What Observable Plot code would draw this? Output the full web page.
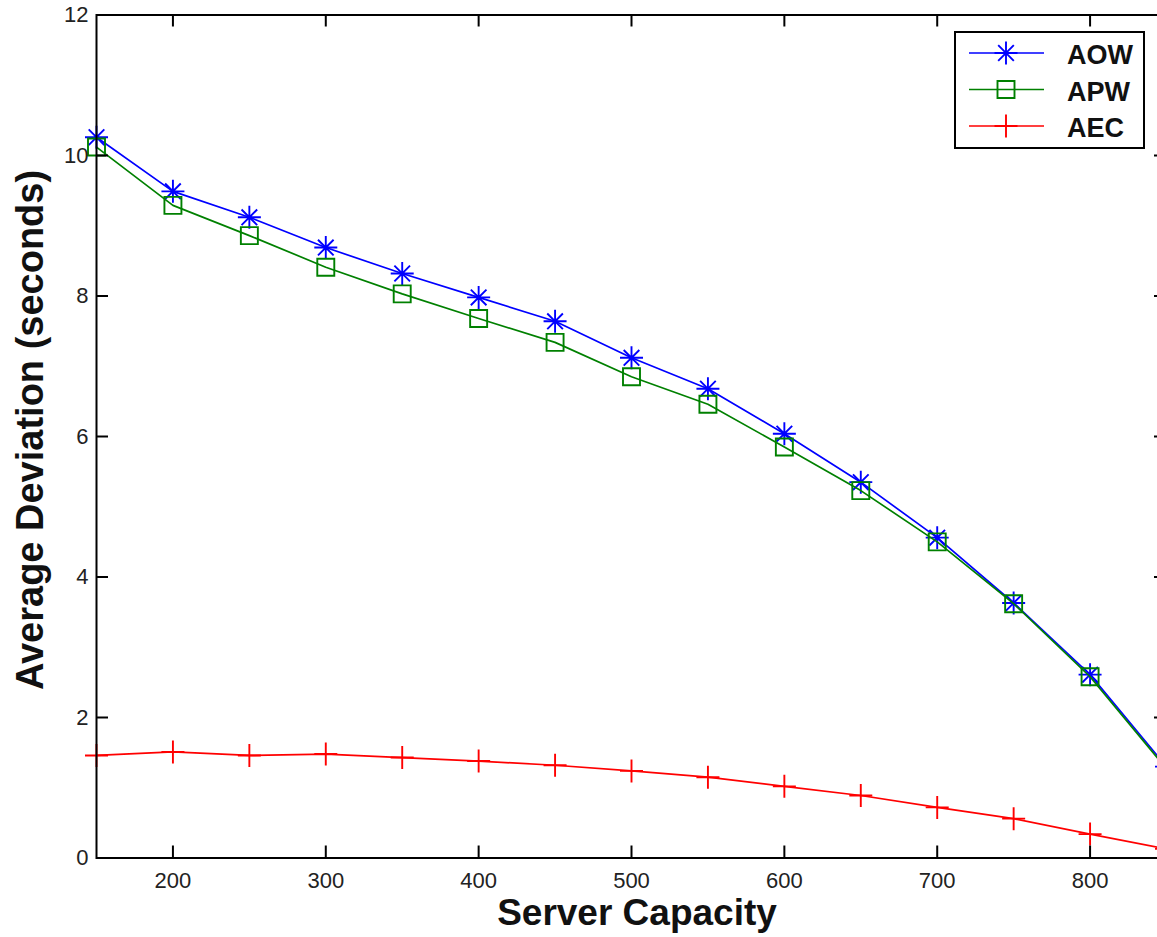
<!DOCTYPE html>
<html><head><meta charset="utf-8">
<script src="https://cdn.jsdelivr.net/npm/d3@7"></script>
<script src="https://cdn.jsdelivr.net/npm/@observablehq/plot@0.6"></script>
<style>
body{margin:0;background:#fff;}
#chart{position:relative;width:1157px;height:937px;overflow:hidden;}
#chart svg{overflow:hidden;}
</style>
</head><body><div id="chart"></div>
<script>
const capacity = [150,200,250,300,350,400,450,500,550,600,650,700,750,800,850];
const aow = [10.26,9.49,9.12,8.69,8.32,7.98,7.64,7.12,6.68,6.04,5.35,4.56,3.63,2.61,1.30];
const apw = [10.12,9.29,8.86,8.41,8.03,7.68,7.34,6.85,6.46,5.85,5.23,4.50,3.62,2.58,1.27];
const aec = [1.46,1.51,1.46,1.48,1.43,1.38,1.32,1.24,1.15,1.02,0.89,0.72,0.56,0.34,0.13];
const seriesNames = ["AOW","APW","AEC"];
const seriesColors = ["#0000ff","#008000","#ff0000"];
const xTicks = [200,300,400,500,600,700,800];
const yTicks = [0,2,4,6,8,10,12];
const xLabel = "Server Capacity";
const yLabel = "Average Deviation (seconds)";

// custom MATLAB-like marker shapes
const asterisk = {draw(c, size){const r=Math.sqrt(size/Math.PI), d=r*0.68;
  c.moveTo(-r,0);c.lineTo(r,0);c.moveTo(0,-r);c.lineTo(0,r);
  c.moveTo(-d,-d);c.lineTo(d,d);c.moveTo(-d,d);c.lineTo(d,-d);}};
const square = {draw(c, size){const r=Math.sqrt(size/Math.PI);
  c.moveTo(-r,-r);c.lineTo(r,-r);c.lineTo(r,r);c.lineTo(-r,r);c.closePath();}};
const plus = {draw(c, size){const r=Math.sqrt(size/Math.PI);
  c.moveTo(-r,0);c.lineTo(r,0);c.moveTo(0,-r);c.lineTo(0,r);}};
const seriesSymbols = [asterisk, square, plus];
const seriesR = [11.5, 8.5, 11.5];
const seriesValues = [aow, apw, aec];

const rows = seriesNames.map((s,i)=>capacity.map((x,j)=>({series:s, x, y:seriesValues[i][j]})));

const W = 1157, H = 937, mL = 96, mR = -9, mT = 14.5, mB = 79.5;
const plotW = W - mL - mR, plotH = H - mT - mB;
const font = "'Liberation Sans', Arial, Helvetica, sans-serif";

const marks = [];
rows.forEach((data,i)=>{
  marks.push(Plot.line(data, {x:"x", y:"y", stroke: seriesColors[i], strokeWidth: 1.7}));
  marks.push(Plot.dot(data, {x:"x", y:"y", symbol: seriesSymbols[i], r: seriesR[i], fill:"none", stroke: seriesColors[i], strokeWidth: 1.9}));
});

const chart = Plot.plot({
  width: W, height: H,
  marginLeft: mL, marginRight: mR, marginTop: mT, marginBottom: mB,
  style: {fontFamily: font, background: "#fff", overflow: "hidden"},
  x: {domain: [150, 850]},
  y: {domain: [0, 12]},
  marks: [
    ...marks,
    Plot.tickX(xTicks, {x: d=>d, insetTop: plotH-12, stroke:"#000", strokeWidth:2}),
    Plot.tickX(xTicks, {x: d=>d, insetBottom: plotH-12, stroke:"#000", strokeWidth:2}),
    Plot.tickY(yTicks, {y: d=>d, insetRight: plotW-12, stroke:"#000", strokeWidth:2}),
    Plot.tickY(yTicks, {y: d=>d, insetLeft: plotW-12, stroke:"#000", strokeWidth:2}),
    Plot.frame({stroke:"#000", strokeWidth:2}),
    Plot.axisX({ticks: xTicks, tickSize: 0, tickPadding: 14, label: null, fontSize: 22, fill:"#222"}),
    Plot.axisY({ticks: yTicks, tickSize: 0, tickPadding: 8, label: null, fontSize: 22, fill:"#222"})
  ]
});
document.getElementById("chart").appendChild(chart);

const svg = d3.select(chart);
// axis titles
svg.append("text").attr("x", 637).attr("y", 925).attr("text-anchor","middle")
  .attr("font-family", font).attr("font-weight","bold").attr("font-size", 37).attr("fill","#111")
  .text(xLabel);
svg.append("text").attr("transform","translate(43,430) rotate(-90)").attr("text-anchor","middle")
  .attr("font-family", font).attr("font-weight","bold").attr("font-size", 38).attr("fill","#111")
  .text(yLabel);

// legend
const lg = svg.append("g");
lg.append("rect").attr("x",955).attr("y",32).attr("width",189).attr("height",116)
  .attr("fill","#fff").attr("stroke","#000").attr("stroke-width",2);
seriesNames.forEach((s,i)=>{
  const yy = 53 + i*36.5;
  lg.append("line").attr("x1",969).attr("x2",1044).attr("y1",yy).attr("y2",yy)
    .attr("stroke",seriesColors[i]).attr("stroke-width",1.7);
  const p = d3.path(); seriesSymbols[i].draw(p, seriesR[i]*seriesR[i]*Math.PI);
  lg.append("path").attr("d", p.toString()).attr("transform",`translate(1006,${yy})`)
    .attr("fill","none").attr("stroke",seriesColors[i]).attr("stroke-width",1.9);
  lg.append("text").attr("x",1067).attr("y",yy+11).attr("text-anchor","start").attr("font-family",font)
    .attr("font-weight","bold").attr("font-size",27).attr("fill","#111").text(s);
});
</script>
</body></html>
